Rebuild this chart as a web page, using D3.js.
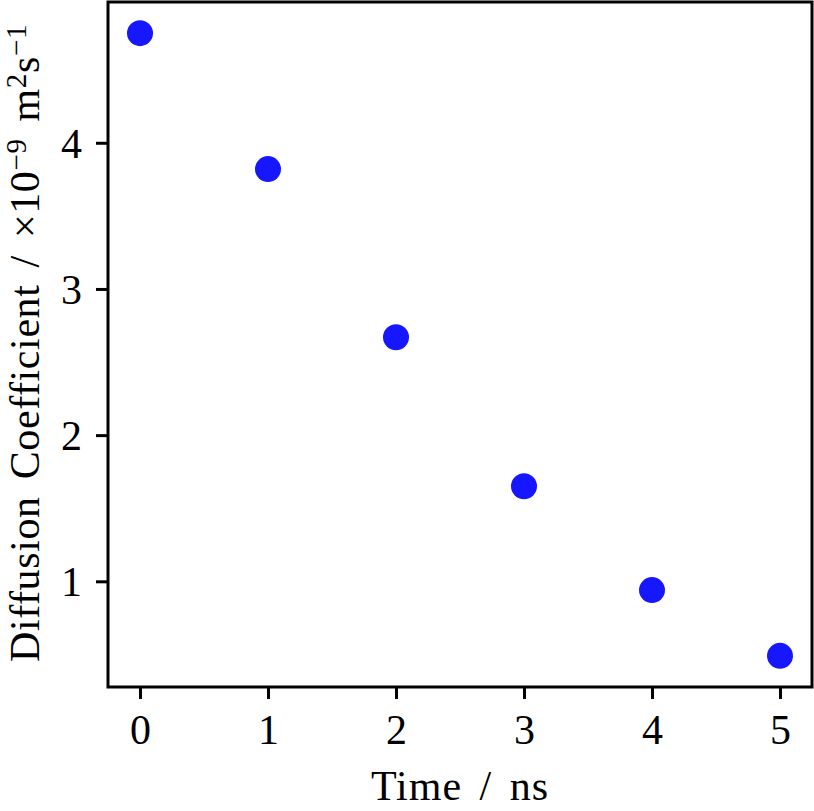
<!DOCTYPE html>
<html>
<head>
<meta charset="utf-8">
<script src="https://cdn.jsdelivr.net/npm/d3@7"></script>
<style>
  body { margin: 0; background: #fff; }
  text { font-family: "Liberation Serif", "DejaVu Serif", serif; fill: #000; }
</style>
</head>
<body>
<svg id="chart"></svg>
<script>
var times = [0, 1, 2, 3, 4, 5]
var diffusion = [4.75, 3.82, 2.67, 1.65, 0.94, 0.49]
var xTicks = [0, 1, 2, 3, 4, 5]
var yTicks = [1, 2, 3, 4]

var screen = {width: 814, height: 811}
var margins = {top: 2, bottom: 124, left: 108, right: 2}
var graph = {
    width: screen.width - margins.left - margins.right,
    height: screen.height - margins.top - margins.bottom
}

var svg = d3.select("#chart")
    .attr("width", screen.width)
    .attr("height", screen.height)

// matplotlib style 5% padding
var xPad = (d3.max(times) - d3.min(times)) * 0.05
var yPad = (d3.max(diffusion) - d3.min(diffusion)) * 0.05

var xScale = d3.scaleLinear()
    .domain([d3.min(times) - xPad, d3.max(times) + xPad])
    .range([0, graph.width])
var yScale = d3.scaleLinear()
    .domain([d3.min(diffusion) - yPad, d3.max(diffusion) + yPad])
    .range([graph.height, 0])

var g = svg.append("g")
    .attr("transform", "translate(" + margins.left + "," + margins.top + ")")

var xAxis = d3.axisBottom(xScale)
    .tickValues(xTicks)
    .tickFormat(d3.format("d"))
    .tickSize(12)
    .tickPadding(15)
    .tickSizeOuter(0)
var yAxis = d3.axisLeft(yScale)
    .tickValues(yTicks)
    .tickFormat(d3.format("d"))
    .tickSize(12)
    .tickPadding(14)
    .tickSizeOuter(0)

var gx = g.append("g")
    .attr("transform", "translate(0," + graph.height + ")")
    .call(xAxis)
var gy = g.append("g").call(yAxis)

g.selectAll(".domain").remove()
g.selectAll(".tick line").attr("stroke", "#000").attr("stroke-width", 3)
g.selectAll(".tick text").style("font-size", "42px").attr("fill", "#000")
gy.selectAll(".tick text").attr("dy", "0.34em")

g.append("rect")
    .attr("x", 0)
    .attr("y", 0)
    .attr("width", graph.width)
    .attr("height", graph.height)
    .attr("fill", "none")
    .attr("stroke", "#000")
    .attr("stroke-width", 3)

g.selectAll("circle")
    .data(times)
    .enter()
    .append("circle")
    .attr("cx", function(t) { return xScale(t) })
    .attr("cy", function(t, i) { return yScale(diffusion[i]) })
    .attr("r", 13)
    .attr("fill", "#1616ff")

svg.append("text")
    .text("Time / ns")
    .attr("text-anchor", "middle")
    .attr("x", margins.left + graph.width / 2)
    .attr("y", 800)
    .style("font-size", "42px")
    .style("word-spacing", "6px")
    .style("letter-spacing", "1px")

var ylab = svg.append("text")
    .attr("text-anchor", "middle")
    .attr("transform", "translate(39,343) rotate(-90)")
    .style("font-size", "42px")
    .style("word-spacing", "6px")
    .style("letter-spacing", "0.6px")
ylab.append("tspan").text("Diffusion Coefficient / ×10")
ylab.append("tspan").text("−9").attr("baseline-shift", "13px").style("font-size", "29px")
ylab.append("tspan").text(" m")
ylab.append("tspan").text("2").attr("baseline-shift", "13px").style("font-size", "29px")
ylab.append("tspan").text("s")
ylab.append("tspan").text("−1").attr("baseline-shift", "13px").style("font-size", "29px")
</script>
</body>
</html>
